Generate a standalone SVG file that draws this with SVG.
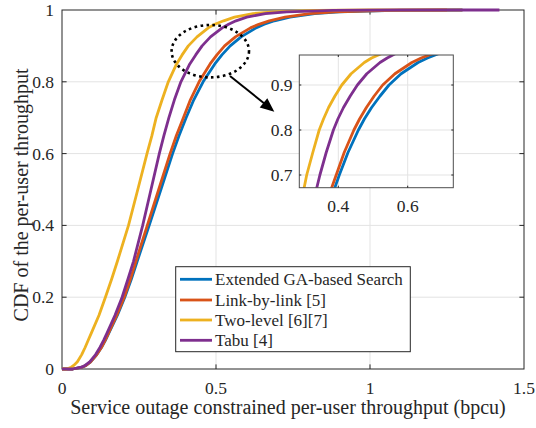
<svg xmlns="http://www.w3.org/2000/svg" width="536" height="428" viewBox="0 0 536 428">
<style>
text{font-family:"Liberation Serif","Times New Roman",serif;fill:#262626}
.tk{font-size:17.5px}
.lab{font-size:20px}
.lg{font-size:17px}
.grid{stroke:#e3e3e3;stroke-width:1;fill:none}
.ax{stroke:#262626;stroke-width:1;fill:none}
.c{fill:none;stroke-width:2.8;stroke-linejoin:round;stroke-linecap:butt}
.b{stroke:#0072BD}.o{stroke:#D95319}.y{stroke:#EDB120}.p{stroke:#7E2F8E}
</style>
<defs>
<clipPath id="insetClip"><rect x="299.3" y="55" width="154" height="132.7"/></clipPath>
</defs>
<rect width="536" height="428" fill="#fff"/>
<g id="main-axes">
<rect x="62" y="10" width="462" height="359" fill="#fff"/>
<path class="grid" d="M216,10V369M370,10V369M62,297.2H524M62,225.4H524M62,153.6H524M62,81.8H524"/>
<rect class="ax" x="62" y="10" width="462" height="359"/>
<path class="ax" d="M216,369v-4.6M370,369v-4.6M216,10v4.6M370,10v4.6M62,297.2h4.6M62,225.4h4.6M62,153.6h4.6M62,81.8h4.6M524,297.2h-4.6M524,225.4h-4.6M524,153.6h-4.6M524,81.8h-4.6"/>
<g class="tk" text-anchor="end">
<text x="54" y="16">1</text>
<text x="54" y="87.8">0.8</text>
<text x="54" y="159.6">0.6</text>
<text x="54" y="231.4">0.4</text>
<text x="54" y="303.2">0.2</text>
<text x="54" y="375">0</text>
</g>
<g class="tk" text-anchor="middle">
<text x="62" y="393.5">0</text>
<text x="216" y="393.5">0.5</text>
<text x="370" y="393.5">1</text>
<text x="524" y="393.5">1.5</text>
</g>
<text class="lab" x="288" y="414" text-anchor="middle">Service outage constrained per-user throughput (bpcu)</text>
<text class="lab" transform="translate(28,195) rotate(-90)" text-anchor="middle">CDF of the per-user throughput</text>
</g>
<g id="main-curves">
<polyline class="c b" points="62,369 72.8,369 82,367.2 86,365.4 90.6,361.8 96.8,354.6 101.4,347.5 105.4,340.3 108.8,333.1 117.4,315.2 124.8,297.2 131.3,279.3 137.2,261.3 149.2,225.4 160.9,189.5 172.6,153.6 179,135.7 186.1,117.7 193.8,99.8 203.1,81.8 214.8,63.9 221.9,54.9 230.2,45.9 241.1,36.9 256,27.9 264.3,24.3 274.5,20.8 289.9,17.2 314.6,13.6 339.2,11.8 394.6,10.4 462.4,10"/>
<polyline class="c o" points="62,369 72.8,369 82,367.2 86,365.4 90.6,361.8 96.8,354.6 101.4,347.5 105.1,340.3 108.5,333.1 116.8,315.2 124.2,297.2 130.4,279.3 135.9,261.3 147.3,225.4 158.7,189.5 170.1,153.6 176.3,135.7 183.4,117.7 190.4,99.8 199.1,81.8 210.1,63.9 216.9,54.9 224.6,45.9 235.4,36.9 250.5,27.9 258.8,24.3 269.3,20.8 285,17.2 309.9,13.6 335.2,11.8 391.6,10.4 447,10"/>
<polyline class="c y" points="62,369 66.6,369 71.2,367.2 73.7,365.4 77.4,361.8 81.7,354.6 85.1,347.5 88.2,340.3 91.3,333.1 99,315.2 105.4,297.2 111.6,279.3 117.4,261.3 128.5,225.4 137.8,189.5 147,153.6 151.9,135.7 156.2,117.7 162.1,99.8 168.3,81.8 176.6,63.9 182.1,54.9 188.3,45.9 197,36.9 208.3,27.9 214.8,24.3 223.7,20.8 234.5,17.2 253,13.6 274.5,11.8 317.6,10.4 370,10 462.4,10"/>
<polyline class="c p" points="62,369 72.8,369 81.4,367.2 85.1,365.4 89.7,361.8 95.6,354.6 99.9,347.5 103.6,340.3 107,333.1 115,315.2 122.1,297.2 127.9,279.3 133.5,261.3 142.7,225.4 151,189.5 159.3,153.6 163.9,135.7 168.9,117.7 174.4,99.8 180.9,81.8 189.8,63.9 195.7,54.9 202.1,45.9 210.5,36.9 222.2,27.9 228.6,24.3 236,20.8 246.8,17.2 265.3,13.6 286.8,11.8 333,10.4 400.8,10 499.4,10"/>
</g>
<g id="zoom-annotation">
<ellipse cx="210.3" cy="51.2" rx="38.7" ry="26.2" fill="none" stroke="#000" stroke-width="2.6" stroke-dasharray="2.6 3.4"/>
<line x1="230" y1="76" x2="264" y2="103.2" stroke="#000" stroke-width="2"/>
<polygon points="274.3,111.7 259.7,107.4 267.3,98.2" fill="#000"/>
</g>
<g id="inset-axes">
<rect x="299.3" y="55" width="154" height="132.7" fill="#fff"/>
<path class="grid" d="M338.3,55V187.7M407.7,55V187.7M299.3,85H453.3M299.3,130H453.3M299.3,175H453.3"/>
<g clip-path="url(#insetClip)">
<polyline class="c b" points="324.1,220 331.4,197.5 339.3,175 348,152.5 358.4,130 364.5,118.75 371.6,107.5 379.9,96.25 389,85 401.1,73.75 418.1,62.5 427.5,58 438.9,53.5 456.3,49"/>
<polyline class="c o" points="321.3,220 328.2,197.5 336.2,175 344.2,152.5 353.9,130 359.7,118.75 366.4,107.5 374,96.25 382.7,85 394.9,73.75 411.9,62.5 421.2,58 433,53.5 450.7,49"/>
<polyline class="c y" points="297,220 302.2,197.5 306.7,175 312.8,152.5 319.2,130 323.6,118.75 328.6,107.5 334.8,96.25 341.8,85 351.1,73.75 364.3,62.5 371.6,58 381.7,53.5 393.8,49"/>
<polyline class="c p" points="309.2,220 314.4,197.5 319.9,175 326.2,152.5 333.4,130 338,118.75 343.5,107.5 350.1,96.25 357.4,85 366.8,73.75 380,62.5 387.2,58 395.6,53.5 407.7,49"/>
</g>
<rect x="299.3" y="55" width="154" height="132.7" fill="none" stroke="#4d4d4d" stroke-width="1"/>
<path class="ax" d="M338.3,187.7v-2M407.7,187.7v-2M338.3,55v2M407.7,55v2M299.3,85h2M299.3,130h2M299.3,175h2M453.3,85h-2M453.3,130h-2M453.3,175h-2"/>
<g class="tk" text-anchor="end">
<text x="292.5" y="91.3">0.9</text>
<text x="292.5" y="136.3">0.8</text>
<text x="292.5" y="181.3">0.7</text>
</g>
<g class="tk" text-anchor="middle">
<text x="338.3" y="212">0.4</text>
<text x="407.7" y="212">0.6</text>
</g>
</g>
<g id="legend">
<rect x="175.7" y="266.7" width="234.6" height="85" fill="#fff" stroke="#262626" stroke-width="1"/>
<line class="c b" x1="180" y1="279.3" x2="212" y2="279.3"/>
<line class="c o" x1="180" y1="300" x2="212" y2="300"/>
<line class="c y" x1="180" y1="320" x2="212" y2="320"/>
<line class="c p" x1="180" y1="340.3" x2="212" y2="340.3"/>
<text class="lg" x="215" y="285.3">Extended GA-based Search</text>
<text class="lg" x="215" y="306">Link-by-link [5]</text>
<text class="lg" x="215" y="326">Two-level [6][7]</text>
<text class="lg" x="215" y="346.3">Tabu [4]</text>
</g>
</svg>
